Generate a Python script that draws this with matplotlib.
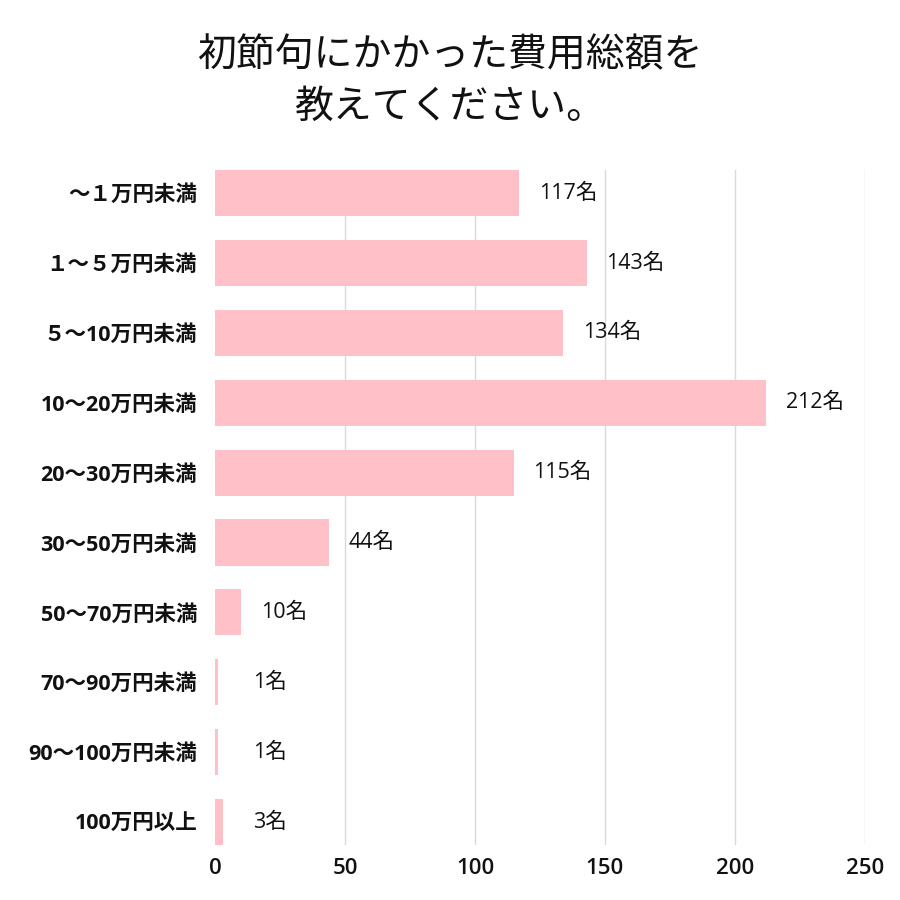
import matplotlib
matplotlib.use('Agg')
import matplotlib.pyplot as plt

plt.rcParams['font.family'] = ['Open Sans', 'Noto Sans CJK JP', 'DejaVu Sans']

categories = ['～１万円未満', '１～５万円未満', '５～10万円未満', '10～20万円未満', '20～30万円未満',
              '30～50万円未満', '50～70万円未満', '70～90万円未満', '90～100万円未満', '100万円以上']
counts = [117, 143, 134, 212, 115, 44, 10, 1, 1, 3]
value_labels = [f'{v}名' for v in counts]
xticks = [0, 50, 100, 150, 200, 250]
title = '初節句にかかった費用総額を\n教えてください。'

fig = plt.figure(figsize=(9, 9), dpi=100)
ax = fig.add_axes([0.239, 0.061, 0.722, 0.750])

ypos = list(range(len(categories)))
ax.barh(ypos, counts, height=0.66, color='#FFC0C8', zorder=2)

# 数値ラベル（棒の右側）
for y, v, lab in zip(ypos, counts, value_labels):
    ax.text(max(v + 7.5, 14.5), y, lab, va='center', ha='left', fontsize=15.5, color='#111111')

ax.set_xlim(0, 250)
ax.set_ylim(9.33, -0.33)
ax.set_xticks(xticks)
ax.set_xticklabels([str(t) for t in xticks], fontsize=16, fontweight='semibold')
ax.set_yticks(ypos)
ax.set_yticklabels(categories, fontsize=15.5, fontweight='bold')
ax.tick_params(axis='both', length=0, colors='#111111')
ax.tick_params(axis='x', pad=9)
ax.tick_params(axis='y', pad=13)
ax.grid(axis='x', color='#d9d9d9', linewidth=1, zorder=0)
ax.xaxis.get_gridlines()[0].set_visible(False)
for s in ax.spines.values():
    s.set_visible(False)

fig.text(0.5, 0.91, title, ha='center', va='center', fontsize=28, fontweight='normal',
         family=['Noto Sans CJK JP'], linespacing=1.4, color='#111111')

fig.savefig('out.png', dpi=100, facecolor='white')
